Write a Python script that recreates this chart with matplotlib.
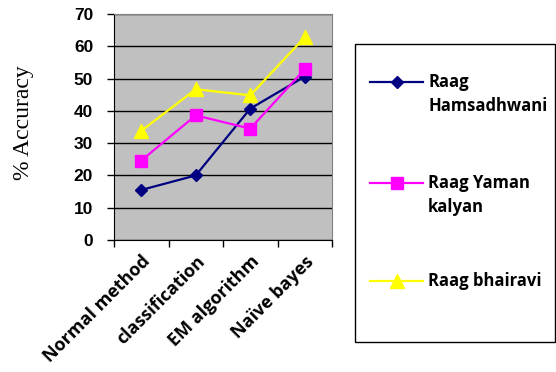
import matplotlib
matplotlib.use('Agg')
import matplotlib.pyplot as plt
from matplotlib.lines import Line2D
from matplotlib.patches import Rectangle
import numpy as np

categories = ['Normal method', 'classification', 'EM algorithm', 'Naïve bayes']
hamsadhwani = [15.5, 20.0, 40.7, 50.6]
yaman_kalyan = [24.6, 38.6, 34.5, 52.9]
bhairavi = [33.8, 46.7, 44.8, 62.8]

series_names = ['Raag\nHamsadhwani', 'Raag Yaman\nkalyan', 'Raag bhairavi']
series_colors = ['#000080', '#FF00FF', '#FFFF00']
series_markers = ['D', 's', '^']
series_msize = [6.5, 8.5, 9.5]

W, H = 556, 372
fig = plt.figure(figsize=(W / 100, H / 100), dpi=100)
fig.patch.set_facecolor('white')

# plot area in pixels: x 114..332, y 14..240
ax = fig.add_axes([114 / W, 1 - 240 / H, 218 / W, 226 / H])
ax.set_facecolor('#C0C0C0')

x = np.arange(len(categories)) + 0.5
data = [hamsadhwani, yaman_kalyan, bhairavi]
for vals, c, m, ms in zip(data, series_colors, series_markers, series_msize):
    ax.plot(x, vals, color=c, marker=m, markersize=ms, linewidth=1.6,
            markeredgecolor=c, markerfacecolor=c, clip_on=False)

ax.set_xlim(0, len(categories))
ax.set_ylim(0, 70)
ax.set_yticks(range(0, 71, 10))
ax.yaxis.grid(True, color='black', linewidth=1)
ax.set_axisbelow(True)

ax.set_xticks(range(0, len(categories) + 1))
ax.set_xticklabels([])
ax.set_xticks(x, minor=True)
ax.set_xticklabels(categories, minor=True, rotation=45, ha='right', va='top',
                   rotation_mode='anchor', fontsize=13, fontweight='bold',
                   family='Open Sans')
ax.tick_params(axis='x', which='minor', length=0, pad=9)
ax.tick_params(axis='x', which='major', length=5, direction='out', width=1)
ax.tick_params(axis='y', length=5, direction='out', width=1, pad=10)
for lab in ax.get_yticklabels():
    lab.set_fontweight('bold')
    lab.set_fontsize(12.5)
    lab.set_family('Liberation Sans')

for s in ['top', 'right']:
    ax.spines[s].set_color('#808080')
ax.spines['left'].set_color('black')
ax.spines['bottom'].set_color('black')

fig.text(24 / W, 1 - 123 / H, '% Accuracy', rotation=90, ha='center',
         va='center', fontsize=17, family='Liberation Serif')

# legend box
fig.patches.append(Rectangle((355 / W, 1 - 342 / H), (W - 356) / W, 298 / H,
                             transform=fig.transFigure, fill=False,
                             edgecolor='black', linewidth=1))
rows_y = [82, 183, 281]
for name, c, m, ms, yy in zip(series_names, series_colors, series_markers,
                              series_msize, rows_y):
    fy = 1 - yy / H
    fig.lines.append(Line2D([370 / W, 423 / W], [fy, fy], transform=fig.transFigure,
                            color=c, linewidth=1.6))
    fig.lines.append(Line2D([397 / W], [fy], transform=fig.transFigure, color=c,
                            marker=m, markersize=ms, markerfacecolor=c,
                            markeredgecolor=c))
    fig.text(428 / W, 1 - (yy - 9) / H, name, ha='left', va='top', fontsize=12,
             fontweight='bold', family='Open Sans', linespacing=1.45)

fig.savefig('out.png', dpi=100)
